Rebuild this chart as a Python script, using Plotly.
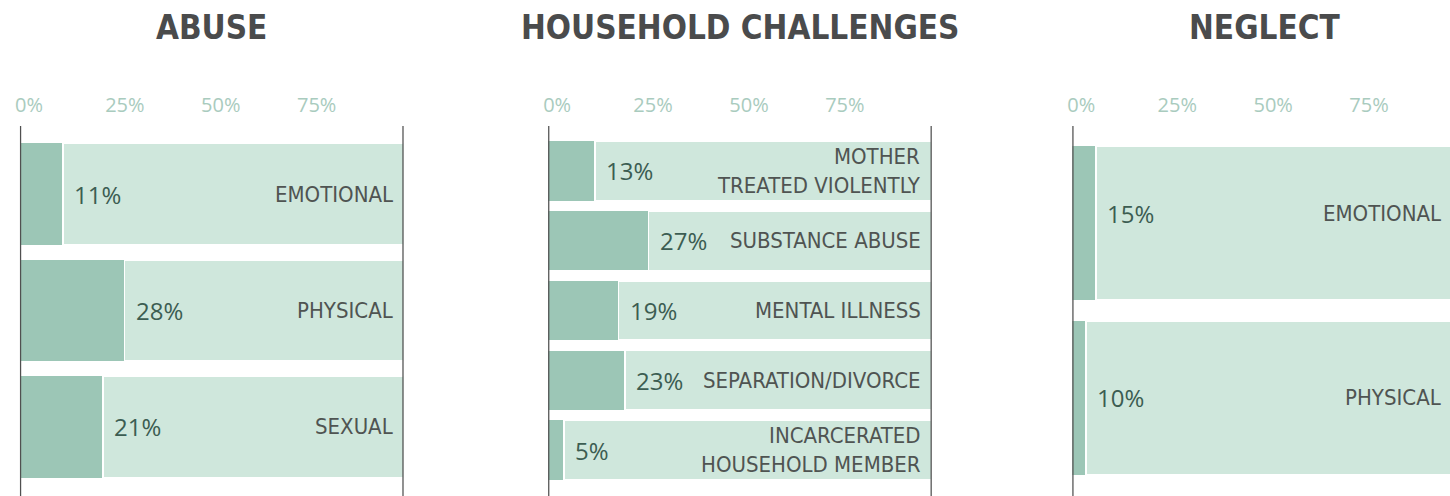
import plotly.graph_objects as go

# ---- data ----
abuse_cats = ["EMOTIONAL", "PHYSICAL", "SEXUAL"]
abuse_pct = [11, 28, 21]
abuse_bar = [11.2, 27.3, 21.6]          # drawn length of the dark segment

household_cats = ["MOTHER<br>TREATED VIOLENTLY", "SUBSTANCE ABUSE", "MENTAL ILLNESS",
                  "SEPARATION/DIVORCE", "INCARCERATED<br>HOUSEHOLD MEMBER"]
household_pct = [13, 27, 19, 23, 5]
household_bar = [12.2, 26.2, 18.4, 20.0, 4.2]

neglect_cats = ["EMOTIONAL", "PHYSICAL"]
neglect_pct = [15, 10]
neglect_bar = [6.2, 3.6]                 # source draws these short

tick_vals = [0, 25, 50, 75]
tick_text = ["0%", "25%", "50%", "75%"]

DARK = "#9cc6b6"
LIGHT = "#cfe7dc"
TICK_COLOR = "#a9cbbe"
PCT_COLOR = "#3c5d52"
CAT_COLOR = "#4f5452"
TITLE_COLOR = "#4a4b4c"
LINE_COLOR = "#505050"
COND = "DejaVu Sans Condensed, DejaVu Sans, sans-serif"

W, H = 1450, 496
PX_PER_PCT = 3.85

panels = [
    dict(title="ABUSE", cats=abuse_cats, pct=abuse_pct, bar=abuse_bar, left=15,
         width=0.87, inset=9, yshift=[0, 0, 0]),
    dict(title="HOUSEHOLD CHALLENGES", cats=household_cats, pct=household_pct,
         bar=household_bar, left=545, width=0.85, inset=9, yshift=[0, 0, 0, 0, 0]),
    dict(title="NEGLECT", cats=neglect_cats, pct=neglect_pct, bar=neglect_bar, left=1071,
         width=0.88, inset=13, yshift=[10, 0]),
]

fig = go.Figure()
annotations = []
shapes = []
layout = {}

for i, p in enumerate(panels, start=1):
    xa = "x" if i == 1 else f"x{i}"
    ya = "y" if i == 1 else f"y{i}"
    right_px = min(p["left"] + 100 * PX_PER_PCT, W)
    xmax = (right_px - p["left"]) / PX_PER_PCT
    cut = (100 - xmax) * PX_PER_PCT   # px of the 100% end that falls off the page

    fig.add_trace(go.Bar(
        x=p["bar"], y=p["cats"], orientation="h", xaxis=xa, yaxis=ya,
        marker=dict(color=DARK, line=dict(width=0)), width=p["width"],
        showlegend=False, hoverinfo="skip",
    ))
    fig.add_trace(go.Bar(
        x=[100 - b for b in p["bar"]], y=p["cats"], orientation="h", xaxis=xa, yaxis=ya,
        marker=dict(color=LIGHT, line=dict(width=1.5, color="white")), width=p["width"],
        showlegend=False, hoverinfo="skip",
    ))

    layout["xaxis" if i == 1 else f"xaxis{i}"] = dict(
        domain=[p["left"] / W, right_px / W], range=[0, xmax], anchor=ya, side="top",
        tickvals=tick_vals, ticktext=tick_text, showgrid=False, zeroline=False,
        showline=False, ticks="", ticklabelstandoff=19, ticklabelshift=9,
        tickfont=dict(family="Open Sans", size=20, color=TICK_COLOR), fixedrange=True,
    )
    layout["yaxis" if i == 1 else f"yaxis{i}"] = dict(
        domain=[0.022, 0.726], anchor=xa, autorange="reversed", type="category",
        showticklabels=False, showgrid=False, zeroline=False, showline=False, ticks="",
    )

    # panel title
    annotations.append(dict(
        x=50, xref=xa, y=0.944, yref="paper", text=f"<b>{p['title']}</b>", showarrow=False,
        xanchor="center", yanchor="middle",
        font=dict(family=COND, size=33, color=TITLE_COLOR),
    ))
    for cat, pct, bar, ys in zip(p["cats"], p["pct"], p["bar"], p["yshift"]):
        annotations.append(dict(
            x=bar, xref=xa, y=cat, yref=ya, text=f"{pct}%", showarrow=False,
            xanchor="left", yanchor="middle", xshift=9, yshift=ys,
            font=dict(family="Open Sans", size=24, color=PCT_COLOR),
        ))
        annotations.append(dict(
            x=xmax, xref=xa, y=cat, yref=ya, text=cat, showarrow=False, align="right",
            xanchor="right", yanchor="middle", xshift=-(p["inset"] - cut), yshift=ys,
            font=dict(family=COND, size=22, color=CAT_COLOR),
        ))

    # frame lines at 0% and 100%
    for xv in (0, 100):
        shapes.append(dict(type="line", xref=xa, yref="paper", x0=xv, x1=xv,
                           y0=0, y1=1 - 126 / H, line=dict(color=LINE_COLOR, width=2.5)))

fig.update_layout(
    width=W, height=H, margin=dict(l=0, r=0, t=0, b=0),
    paper_bgcolor="white", plot_bgcolor="white", barmode="stack",
    annotations=annotations, shapes=shapes, **layout,
)

fig.write_html("out.html", config={"displayModeBar": False},
               post_script="document.body.style.margin = '0';")
